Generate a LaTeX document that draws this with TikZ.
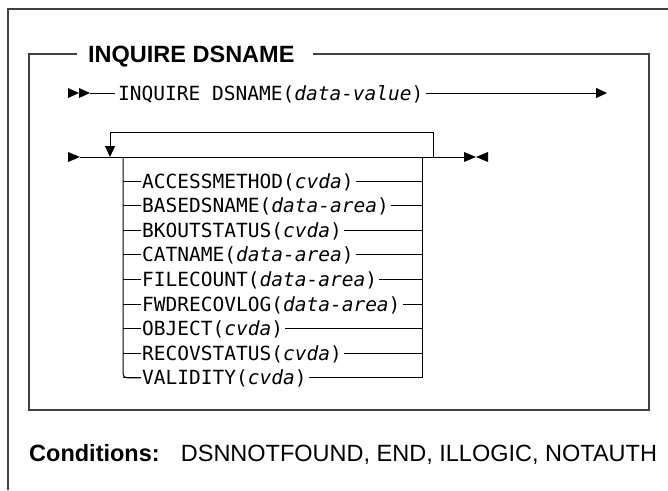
\documentclass[tikz,border=0pt]{standalone}
\usepackage{fontspec}
\setmainfont{Liberation Sans}
\newfontfamily\synfont{DejaVu Sans Mono}
\usetikzlibrary{arrows.meta}
\begin{document}
\begin{tikzpicture}[x=1pt,y=-1pt,
  frame/.style={draw=black!75, line width=1.4pt},
  rail/.style={draw=black, line width=1pt},
  syn/.style={font=\synfont\fontsize{19.5}{22}\selectfont, inner sep=0pt, anchor=base west},
  heading/.style={font=\bfseries\fontsize{23.5}{28}\selectfont, inner sep=0pt, anchor=base west},
  tip/.style={-{Triangle[length=11pt,width=10pt]}},
]
\useasboundingbox (0,0) rectangle (668,490);

% outer page frame
\draw[frame] (8,490) -- (8,9) -- (668,9);

% syntax box with its heading
\node[heading] (title) at (88,62.5) {INQUIRE DSNAME};
\coordinate (tl) at (77,54);
\coordinate (tr) at (313,54);
\draw[frame] (tl) -- (29,54) -- (29,410) -- (649,410) -- (649,54) -- (tr);

% first statement line, starting with a double right-pointing marker
\coordinate (s0) at (68,93);
\coordinate (s1) at (90,93);
\fill (s0) ++(0,-5) -- ++(11,5) -- ++(-11,5) -- cycle;
\fill ([xshift=11pt]s0) ++(0,-5) -- ++(11,5) -- ++(-11,5) -- cycle;
\node[syn] (cmd) at (118,100) {INQUIRE DSNAME(\textit{data-value})};
\coordinate (cmdend) at (607,93);
\draw[rail] (s1) -- ([xshift=-3pt]cmd.west |- s1);
\draw[rail, tip] ([xshift=2pt]cmd.east |- s1) -- (cmdend);

% repeatable option group on the main rail
\coordinate (m0) at (68,157);
\coordinate (m1) at (80,157);
\coordinate (m2) at (464,157);
\fill (m0) ++(0,-5) -- ++(12,5) -- ++(-12,5) -- cycle;
\draw[rail] (m1) -- (m2);
% end-of-statement marker
\fill (m2) ++(0,-5) -- ++(12,5) -- ++(-12,5) -- cycle;
\fill ([xshift=24pt]m2) ++(0,-5) -- ++(-12,5) -- ++(12,5) -- cycle;

% repeat loop
\coordinate (lr) at (433,157);
\coordinate (ll) at (110,157);
\draw[rail, tip] (lr) -- (433,132) -- (110,132) -- (ll);

% options
\foreach \t [count=\k] in {
  {ACCESSMETHOD(\textit{cvda})},
  {BASEDSNAME(\textit{data-area})},
  {BKOUTSTATUS(\textit{cvda})},
  {CATNAME(\textit{data-area})},
  {FILECOUNT(\textit{data-area})},
  {FWDRECOVLOG(\textit{data-area})},
  {OBJECT(\textit{cvda})},
  {RECOVSTATUS(\textit{cvda})},
  {VALIDITY(\textit{cvda})}} {
  \pgfmathsetmacro\yy{181+24.6*(\k-1)}
  \coordinate (L\k) at (123,\yy);
  \coordinate (R\k) at (422,\yy);
  \node[syn] (opt\k) at (142,\yy+7) {\t};
  \draw[rail] (L\k) -- ([xshift=-1pt]L\k -| opt\k.west);
  \draw[rail] ([xshift=2pt]R\k -| opt\k.east) -- (R\k);
}
\draw[rail, rounded corners=4pt] (123,157) -- (L9) -- ([xshift=-1pt]L9 -| opt9.west);
\draw[rail] (422,157) -- (R9);

% conditions
\node[heading, font=\fontsize{23.5}{28}\selectfont] (cond) at (29,461)
  {\textbf{Conditions:}\hspace{0.9em}DSNNOTFOUND, END, ILLOGIC, NOTAUTH};
\end{tikzpicture}
\end{document}
